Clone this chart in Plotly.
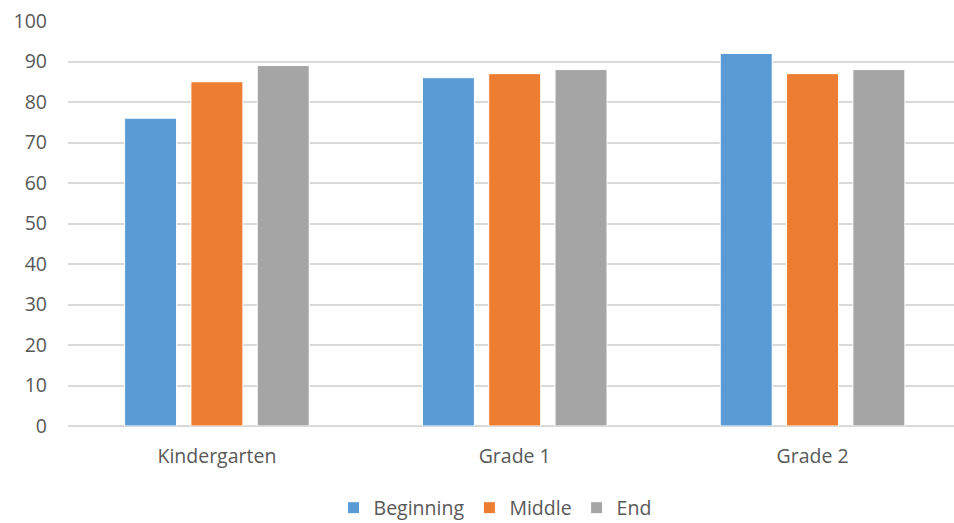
import plotly.graph_objects as go

# Grade levels and score by point in the school year
grades = ["Kindergarten", "Grade 1", "Grade 2"]
beginning = [76, 86, 92]
middle = [85, 87, 87]
end = [89, 88, 88]

series_names = ["Beginning", "Middle", "End"]
series_colors = ["#5B9BD5", "#ED7D31", "#A5A5A5"]
y_ticks = [0, 10, 20, 30, 40, 50, 60, 70, 80, 90, 100]

fig = go.Figure()
for name, vals, color in zip(series_names, [beginning, middle, end], series_colors):
    fig.add_trace(go.Bar(
        x=grades, y=vals, name=name,
        marker=dict(color=color, line=dict(color="white", width=1)),
    ))

font_family = "'Open Sans', sans-serif"
fig.update_layout(
    width=954, height=523,
    margin=dict(l=68, r=0, t=21, b=97, autoexpand=False),
    plot_bgcolor="white", paper_bgcolor="white",
    barmode="group", bargap=0.332, bargroupgap=0.216,
    font=dict(family=font_family, size=19.5, color="#595959"),
    showlegend=True,
    legend=dict(
        orientation="h", x=0.2997, xanchor="left", y=-0.2025, yanchor="middle",
        font=dict(size=19.5, color="#595959"), itemwidth=30,
        traceorder="normal",
    ),
    xaxis=dict(
        range=[-0.5, 2.475], showgrid=False, ticks="", showline=False,
        zeroline=False, ticklabelstandoff=16, automargin=False,
    ),
    yaxis=dict(
        range=[0, 100], tickvals=y_ticks, showgrid=True, gridcolor="#D9D9D9",
        gridwidth=1.5, zeroline=True, zerolinecolor="#D9D9D9", zerolinewidth=1.5,
        showline=False, ticks="", ticklabelstandoff=20, automargin=False,
    ),
)

fig.write_html("out.html")
